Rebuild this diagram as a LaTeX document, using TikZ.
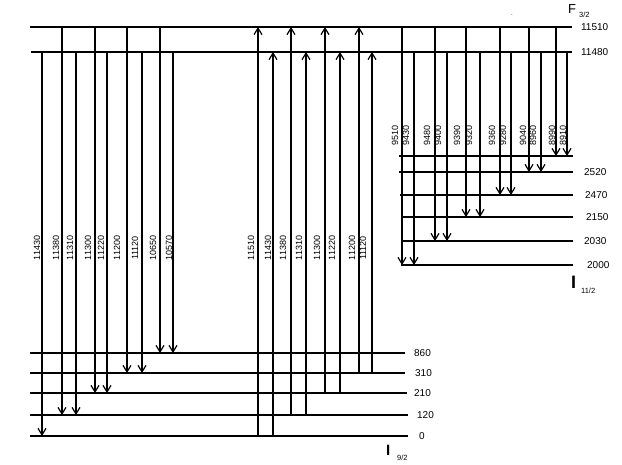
\documentclass[tikz,border=0pt]{standalone}
\usepackage{fontspec}
\setmainfont{Liberation Sans}
\usetikzlibrary{arrows.meta}
\begin{document}
\begin{tikzpicture}[x=1pt,y=-1pt,
  level/.style={line width=2.3pt},
  trans/.style={line width=1.2pt,-{Straight Barb[length=6.5pt,width=8pt,line width=1.2pt]}},
  vlab/.style={rotate=90,font=\fontsize{9}{9}\selectfont,inner sep=0pt},
  elab/.style={anchor=west,font=\fontsize{10}{10}\selectfont,inner sep=0pt},
  termbig/.style={anchor=base west,inner sep=0pt},
  termsub/.style={anchor=base west,inner sep=0pt,font=\fontsize{7.5}{7.5}\selectfont}
]
\useasboundingbox (0,0) rectangle (622,464);

% upper manifold F3/2
\coordinate (U1) at (30,27);  \coordinate (U1e) at (572,27);
\coordinate (U2) at (31,52);  \coordinate (U2e) at (572,52);
% I11/2 manifold
\coordinate (R0) at (399,156); \coordinate (R0e) at (573,156);
\coordinate (R1) at (399,172); \coordinate (R1e) at (573,172);
\coordinate (R2) at (400,195); \coordinate (R2e) at (573,195);
\coordinate (R3) at (402,217); \coordinate (R3e) at (573,217);
\coordinate (R4) at (403,241); \coordinate (R4e) at (573,241);
\coordinate (R5) at (401,265); \coordinate (R5e) at (573,265);
% I9/2 manifold
\coordinate (B860) at (30,353); \coordinate (B860e) at (405,353);
\coordinate (B310) at (30,373); \coordinate (B310e) at (405,373);
\coordinate (B210) at (30,393); \coordinate (B210e) at (407,393);
\coordinate (B120) at (30,415); \coordinate (B120e) at (408,415);
\coordinate (B0)   at (30,436); \coordinate (B0e)   at (408,436);

\draw[level] (U1) -- (U1e) node[elab,right=8pt] (lU1) {11510};
\draw[level] (U2) -- (U2e) node[elab,right=8pt] (lU2) {11480};
\draw[level] (R0) -- (R0e);
\draw[level] (R1) -- (R1e) node[elab,right=10pt] (lR1) {2520};
\draw[level] (R2) -- (R2e) node[elab,right=11pt] (lR2) {2470};
\draw[level] (R3) -- (R3e) node[elab,right=12pt] (lR3) {2150};
\draw[level] (R4) -- (R4e) node[elab,right=10pt] (lR4) {2030};
\draw[level] (R5) -- (R5e) node[elab,right=13pt] (lR5) {2000};
\draw[level] (B860) -- (B860e) node[elab,right=8pt] (lB860) {860};
\draw[level] (B310) -- (B310e) node[elab,right=9pt] (lB310) {310};
\draw[level] (B210) -- (B210e) node[elab,right=6pt] (lB210) {210};
\draw[level] (B120) -- (B120e) node[elab,right=8pt] (lB120) {120};
\draw[level] (B0) -- (B0e) node[elab,right=10pt] (lB0) {0};

% emission F3/2 -> I9/2 (left)
\foreach \x/\f/\t/\lab/\lx in {42/U2/B0/11430/37, 62/U1/B120/11380/56, 76/U2/B120/11310/70,
  95/U1/B210/11300/88, 107/U2/B210/11220/101, 127/U1/B310/11200/117, 142/U2/B310/11120/135,
  160/U1/B860/10650/153, 173/U2/B860/10570/169}{
  \draw[trans] (\x,0 |- \f) -- (\x,0 |- \t);
  \node[vlab] (dl\lab) at (\lx,248) {\lab};
}

% absorption I9/2 -> F3/2 (middle)
\foreach \x/\f/\t/\lab/\lx in {258/B0/U1/11510/251, 273/B0/U2/11430/268, 291/B120/U1/11380/283,
  306/B120/U2/11310/299, 325/B210/U1/11300/317, 340/B210/U2/11220/332,
  359/B310/U1/11200/352, 372/B310/U2/11120/363}{
  \draw[trans] (\x,0 |- \f) -- (\x,0 |- \t);
  \node[vlab] (ab\lab) at (\lx,248) {\lab};
}

% emission F3/2 -> I11/2 (right)
\foreach \x/\f/\t/\lab/\lx in {402/U1/R5/9510/395, 414/U2/R5/9430/406, 435/U1/R4/9480/427,
  447/U2/R4/9400/438, 466/U1/R3/9390/457, 480/U2/R3/9320/469, 500/U1/R2/9360/492,
  511/U2/R2/9280/503, 529/U1/R1/9040/523, 541/U2/R1/8960/533, 556/U1/R0/8990/552,
  567/U2/R0/8910/563}{
  \draw[trans] (\x,0 |- \f) -- (\x,0 |- \t);
  \node[vlab] (dr\lab) at (\lx,135) {\lab};
}

% manifold names
\node[termbig,font=\fontsize{13}{13}\selectfont] (F) at (568,13) {F};
\node[termsub] (Fs) at (579,17.5) {3/2};
\node[termbig,font=\bfseries\fontsize{18}{18}\selectfont] (I11) at (571,288) {I};
\node[termsub] (I11s) at (581,293) {11/2};
\node[termbig,font=\bfseries\fontsize{15}{15}\selectfont] (I9) at (386,455) {I};
\node[termsub] (I9s) at (397,460) {9/2};
\node[font=\fontsize{6}{6}\selectfont,inner sep=0pt] (dot) at (512,15) {.};
\end{tikzpicture}
\end{document}
